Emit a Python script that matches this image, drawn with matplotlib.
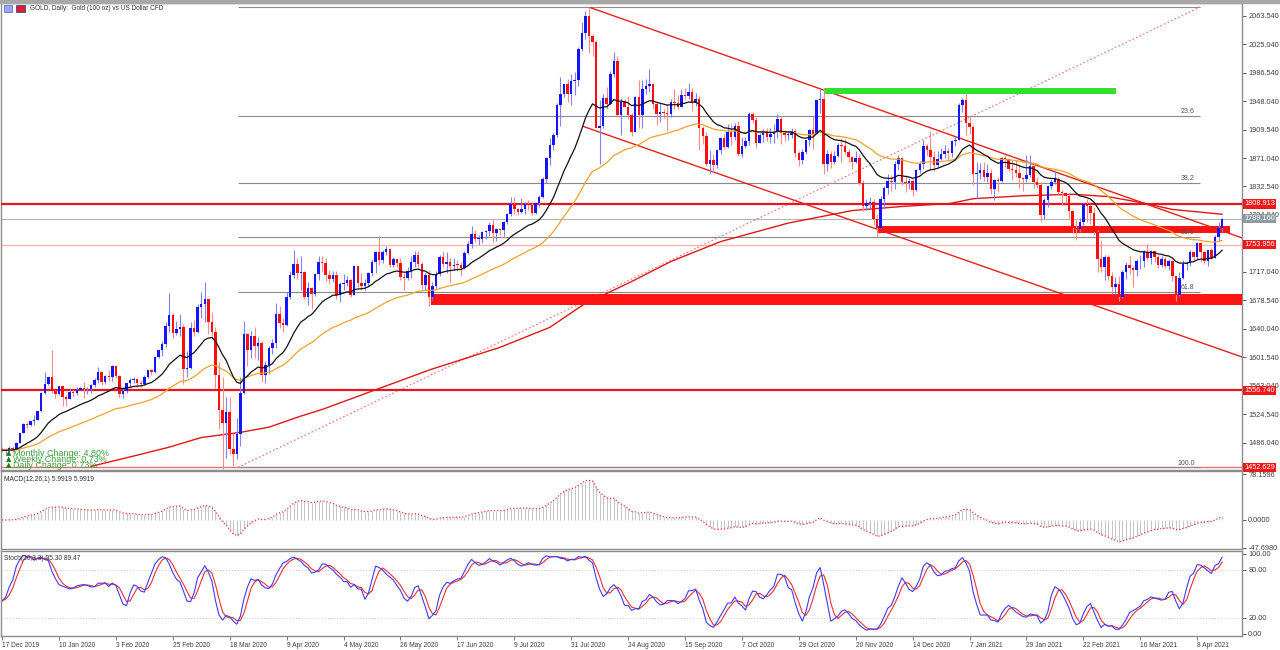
import numpy as np
import pandas as pd
import matplotlib
matplotlib.use('Agg')
import matplotlib.pyplot as plt
import matplotlib.transforms as mtransforms
from matplotlib.patches import Rectangle

# ---- GOLD daily, 17 Dec 2019 -> 19 Apr 2021
first_open = 1476.0

close_2019_12 = [1475.9, 1474.9, 1478.6, 1478.1, 1486.2, 1498.9, 1511.4, 1510.6, 1514.9, 1517.3]
high_2019_12 = [1480, 1479, 1481, 1481, 1487, 1499, 1512, 1514, 1516, 1524]
low_2019_12 = [1473, 1470, 1471, 1473, 1476, 1486, 1499, 1506, 1509, 1510]

close_2020_01 = [1528.8, 1552.6, 1566.0, 1574.3, 1556.2, 1552.2, 1562.3, 1548.3, 1545.1, 1554.8, 1552.7,
                 1557.1, 1560.4, 1558.0, 1558.1, 1563.5, 1571.2, 1581.6, 1567.7, 1576.5, 1575.2, 1589.2]
high_2020_01 = [1529, 1554, 1582, 1575, 1611, 1557, 1563, 1563, 1551, 1559, 1557,
                1561, 1562, 1568, 1561, 1566, 1573, 1588, 1583, 1578, 1584, 1591]
low_2020_01 = [1517, 1527, 1552, 1564, 1553, 1547, 1550, 1536, 1536, 1545, 1548,
               1550, 1557, 1546, 1552, 1553, 1562, 1567, 1564, 1565, 1569, 1570]

close_2020_02 = [1576.9, 1551.4, 1556.1, 1566.2, 1570.4, 1572.6, 1566.9, 1565.9, 1575.4, 1584.1,
                 1581.2, 1601.6, 1611.5, 1619.0, 1643.5, 1659.1, 1634.4, 1640.2, 1643.0, 1585.7]
high_2020_02 = [1591, 1578, 1562, 1567, 1574, 1575, 1573, 1571, 1577, 1585,
                1586, 1603, 1612, 1624, 1649, 1689, 1661, 1651, 1660, 1646]
low_2020_02 = [1573, 1548, 1547, 1553, 1560, 1567, 1562, 1562, 1564, 1573,
               1578, 1580, 1600, 1603, 1616, 1636, 1627, 1632, 1631, 1565]

close_2020_03 = [1587.4, 1640.6, 1636.4, 1669.6, 1674.1, 1680.0, 1649.4, 1635.9, 1577.0, 1530.1, 1512.0,
                 1527.0, 1477.6, 1470.5, 1498.4, 1553.1, 1632.6, 1612.0, 1630.0, 1617.3, 1620.6, 1577.2]
high_2020_03 = [1610, 1649, 1652, 1673, 1690, 1703, 1673, 1663, 1643, 1595, 1575,
                1548, 1548, 1499, 1520, 1575, 1650, 1635, 1637, 1643, 1629, 1623]
low_2020_03 = [1575, 1586, 1630, 1634, 1655, 1649, 1633, 1630, 1560, 1505, 1451,
               1466, 1471, 1455, 1464, 1482, 1552, 1590, 1600, 1601, 1598, 1568]

close_2020_04 = [1591.2, 1613.7, 1620.4, 1660.6, 1647.8, 1645.4, 1683.2, 1713.2, 1727.5, 1716.2, 1717.3,
                 1683.0, 1695.2, 1686.6, 1713.9, 1730.4, 1729.2, 1712.8, 1707.6, 1713.4, 1686.3]
high_2020_04 = [1597, 1617, 1626, 1675, 1671, 1655, 1690, 1718, 1747, 1736, 1739,
                1718, 1703, 1697, 1716, 1739, 1738, 1736, 1719, 1718, 1718]
low_2020_04 = [1567, 1579, 1606, 1614, 1641, 1636, 1644, 1681, 1709, 1707, 1692,
               1680, 1672, 1667, 1685, 1706, 1718, 1705, 1701, 1703, 1680]

close_2020_05 = [1700.4, 1702.0, 1705.8, 1685.6, 1725.2, 1702.4, 1697.8, 1701.6, 1715.7, 1730.0, 1743.5,
                 1733.5, 1744.6, 1747.6, 1726.2, 1734.7, 1728.7, 1710.3, 1708.4, 1718.6, 1730.3]
high_2020_05 = [1703, 1714, 1712, 1708, 1727, 1723, 1715, 1708, 1717, 1735, 1745,
                1765, 1747, 1752, 1750, 1737, 1734, 1736, 1716, 1723, 1739]
low_2020_05 = [1676, 1692, 1698, 1683, 1687, 1697, 1692, 1692, 1698, 1712, 1716,
               1726, 1729, 1740, 1724, 1724, 1724, 1706, 1693, 1706, 1709]

close_2020_06 = [1739.9, 1727.1, 1699.0, 1713.3, 1683.4, 1698.1, 1714.3, 1737.4, 1727.2, 1730.5, 1725.6,
                 1726.9, 1726.2, 1722.2, 1742.5, 1754.4, 1767.9, 1761.5, 1762.0, 1771.0, 1772.1, 1780.9]
high_2020_06 = [1745, 1745, 1731, 1716, 1720, 1703, 1718, 1740, 1745, 1744, 1736,
                1736, 1733, 1730, 1745, 1759, 1779, 1774, 1767, 1772, 1774, 1785]
low_2020_06 = [1724, 1723, 1694, 1693, 1671, 1679, 1695, 1712, 1723, 1715, 1704,
               1719, 1718, 1711, 1721, 1741, 1750, 1757, 1753, 1756, 1762, 1766]

close_2020_07 = [1769.9, 1775.4, 1773.8, 1783.9, 1795.1, 1809.0, 1802.5, 1798.7, 1802.1, 1809.4, 1807.9, 1796.2,
                 1810.3, 1817.9, 1842.7, 1871.2, 1888.3, 1901.6, 1942.1, 1957.3, 1970.7, 1957.2, 1974.9]
high_2020_07 = [1789, 1776, 1776, 1786, 1797, 1818, 1818, 1803, 1817, 1811, 1814, 1812,
                1812, 1821, 1845, 1872, 1898, 1905, 1945, 1981, 1971, 1978, 1984]
low_2020_07 = [1757, 1759, 1767, 1765, 1782, 1793, 1796, 1794, 1797, 1796, 1801, 1794,
               1795, 1805, 1817, 1837, 1862, 1882, 1900, 1915, 1953, 1947, 1943]

close_2020_08 = [1976.3, 2018.9, 2039.6, 2062.5, 2035.6, 2028.0, 1911.6, 1914.5, 1952.6, 1944.7, 1985.2,
                 2001.7, 1929.4, 1947.0, 1940.3, 1929.3, 1906.8, 1954.1, 1929.4, 1964.4, 1968.0]
high_2020_08 = [1987, 2021, 2055, 2070, 2075, 2039, 2030, 1949, 1958, 1967, 1989,
                2015, 2009, 1952, 1951, 1955, 1932, 1955, 1976, 1976, 1978]
low_2020_08 = [1956, 1969, 2016, 2032, 2013, 2009, 1911, 1863, 1911, 1938, 1943,
               1980, 1928, 1902, 1940, 1924, 1901, 1906, 1912, 1911, 1958]

close_2020_09 = [1970.6, 1943.9, 1930.4, 1933.8, 1931.7, 1930.0, 1946.9, 1945.3, 1940.5, 1956.3, 1955.1,
                 1960.6, 1944.8, 1950.6, 1912.3, 1900.2, 1863.2, 1868.1, 1861.5, 1881.4, 1898.6, 1886.4]
high_2020_09 = [1992, 1972, 1947, 1946, 1937, 1944, 1951, 1965, 1956, 1964, 1966,
                1973, 1966, 1959, 1955, 1915, 1906, 1882, 1877, 1882, 1900, 1903]
low_2020_09 = [1960, 1938, 1916, 1920, 1925, 1907, 1926, 1938, 1938, 1941, 1951,
               1951, 1934, 1942, 1882, 1890, 1860, 1849, 1851, 1858, 1877, 1883]

close_2020_10 = [1905.6, 1899.6, 1913.7, 1877.1, 1887.2, 1893.7, 1930.6, 1922.3, 1890.7, 1902.4, 1908.2,
                 1900.0, 1904.1, 1906.9, 1924.2, 1904.3, 1902.0, 1902.1, 1907.6, 1878.3, 1868.2, 1878.8]
high_2020_10 = [1917, 1917, 1919, 1921, 1899, 1900, 1933, 1933, 1926, 1905, 1910,
                1911, 1912, 1917, 1931, 1928, 1909, 1908, 1911, 1910, 1880, 1883]
low_2020_10 = [1885, 1889, 1895, 1874, 1873, 1885, 1889, 1918, 1885, 1892, 1893,
               1894, 1892, 1892, 1898, 1890, 1894, 1895, 1898, 1872, 1860, 1863]

close_2020_11 = [1894.9, 1908.6, 1903.4, 1949.2, 1951.1, 1862.3, 1877.0, 1866.3, 1873.5, 1888.2, 1887.7,
                 1879.3, 1871.9, 1865.9, 1871.2, 1837.8, 1806.4, 1809.8, 1811.9, 1788.0, 1776.9]
high_2020_11 = [1896, 1910, 1928, 1951, 1965, 1966, 1882, 1880, 1880, 1891, 1898,
                1897, 1883, 1874, 1881, 1876, 1841, 1815, 1818, 1815, 1795]
low_2020_11 = [1876, 1887, 1883, 1905, 1932, 1850, 1853, 1857, 1863, 1873, 1866,
               1877, 1866, 1856, 1864, 1834, 1799, 1801, 1804, 1780, 1764]

close_2020_12 = [1815.7, 1830.3, 1840.5, 1839.1, 1863.6, 1871.3, 1839.1, 1837.1, 1840.0, 1827.5, 1854.8,
                 1862.5, 1887.0, 1881.6, 1872.5, 1861.8, 1870.1, 1876.4, 1880.9, 1877.3, 1893.6, 1895.1]
high_2020_12 = [1820, 1833, 1849, 1848, 1867, 1875, 1872, 1848, 1844, 1842, 1856,
                1867, 1896, 1890, 1907, 1881, 1880, 1884, 1889, 1884, 1896, 1900]
low_2020_12 = [1776, 1804, 1823, 1826, 1829, 1855, 1835, 1825, 1829, 1820, 1827,
               1851, 1856, 1874, 1855, 1854, 1859, 1868, 1871, 1869, 1872, 1887]

close_2021_01 = [1943.4, 1949.9, 1918.4, 1913.0, 1849.0, 1850.5, 1855.5, 1845.8, 1850.8, 1828.8,
                 1840.7, 1840.2, 1871.5, 1870.0, 1856.0, 1855.5, 1850.6, 1843.4, 1842.7, 1847.6]
high_2021_01 = [1945, 1952, 1959, 1927, 1916, 1865, 1864, 1865, 1863, 1856,
                1842, 1845, 1872, 1875, 1871, 1868, 1868, 1860, 1846, 1875]
low_2021_01 = [1895, 1933, 1902, 1903, 1835, 1817, 1843, 1840, 1839, 1823,
               1814, 1825, 1838, 1859, 1853, 1841, 1845, 1831, 1826, 1838]

close_2021_02 = [1860.7, 1838.5, 1834.3, 1793.6, 1813.9, 1833.6, 1838.4, 1842.6, 1825.7, 1823.2,
                 1819.0, 1799.1, 1775.8, 1775.0, 1784.1, 1808.6, 1805.6, 1797.2, 1770.7, 1734.0]
high_2021_02 = [1875, 1866, 1845, 1838, 1817, 1835, 1843, 1855, 1846, 1828,
                1825, 1822, 1800, 1787, 1790, 1810, 1816, 1807, 1805, 1774]
low_2021_02 = [1846, 1831, 1831, 1785, 1788, 1805, 1829, 1836, 1822, 1807,
               1810, 1790, 1769, 1760, 1771, 1781, 1785, 1782, 1767, 1717]

close_2021_03 = [1723.5, 1737.6, 1711.4, 1697.0, 1700.6, 1683.0, 1716.5, 1726.4, 1722.3, 1719.4, 1731.1, 1731.3,
                 1744.6, 1735.3, 1744.9, 1737.8, 1726.2, 1735.0, 1724.4, 1732.4, 1711.3, 1685.4, 1708.1]
high_2021_03 = [1760, 1740, 1740, 1717, 1710, 1712, 1720, 1731, 1739, 1725, 1735, 1740,
                1747, 1755, 1747, 1745, 1740, 1738, 1737, 1735, 1733, 1712, 1717]
low_2021_03 = [1717, 1706, 1706, 1687, 1687, 1677, 1682, 1708, 1714, 1697, 1711, 1721,
               1723, 1733, 1728, 1730, 1722, 1723, 1722, 1720, 1705, 1677, 1684]

close_2021_04 = [1728.0, 1728.4, 1743.4, 1737.2, 1755.9, 1744.0, 1732.2, 1746.6, 1736.1, 1764.1, 1776.2, 1789.16]
high_2021_04 = [1733, 1732, 1746, 1745, 1758, 1757, 1745, 1747, 1750, 1767, 1785, 1790]
low_2021_04 = [1707, 1720, 1725, 1733, 1735, 1731, 1728, 1725, 1734, 1737, 1759, 1771]

# long red moving average (bar index, price)
ma_red_bar = [25, 37, 47, 56, 67, 75, 84, 90, 120.5, 140, 154, 163.5, 177, 188, 202, 221, 239, 253,
              266.6, 273, 287, 301, 310.7, 320, 329, 343]
ma_red_val = [1454, 1468, 1480, 1493, 1500, 1507, 1522, 1531, 1585, 1615, 1642, 1673, 1704, 1731, 1758,
              1783, 1800, 1805.5, 1809.6, 1816, 1820, 1822, 1819, 1811, 1801.5, 1795]

date_labels = ['17 Dec 2019', '10 Jan 2020', '3 Feb 2020', '25 Feb 2020', '18 Mar 2020', '9 Apr 2020',
               '4 May 2020', '26 May 2020', '17 Jun 2020', '9 Jul 2020', '31 Jul 2020', '24 Aug 2020',
               '15 Sep 2020', '7 Oct 2020', '29 Oct 2020', '20 Nov 2020', '14 Dec 2020', '7 Jan 2021',
               '29 Jan 2021', '22 Feb 2021', '16 Mar 2021', '8 Apr 2021']

price_ticks = [1486.04, 1524.54, 1563.04, 1601.54, 1640.04, 1678.54, 1717.04, 1755.54,
               1794.04, 1832.54, 1871.04, 1909.54, 1948.04, 1986.54, 2025.04, 2063.54]
hidden_tick = 1755.54   # sits under the 1753.956 price box

# drawn objects on the chart
level_red = [1808.913, 1556.740]
level_pink = 1753.956
level_bottom = 1452.629
bid = 1789.16
fib_low, fib_high = 1452.629, 2075.2
fib_ratios = [0.0, 23.6, 38.2, 50.0, 61.8, 100.0]
fib_bars = (66.3, 336.8)
channel_upper = [(165.5, 2074.3), (348.6, 1763.0)]
channel_lower = [(163.5, 1913.6), (348.6, 1602.0)]
zone_green = (231.2, 313.2, 1958.2, 1966.3)
zone_red_1 = (120.5, 348.6, 1671.8, 1686.7)
zone_red_2 = (246.3, 345.2, 1769.0, 1778.5)

# ---- build the frame
closes = np.array(close_2019_12 + close_2020_01 + close_2020_02 + close_2020_03 + close_2020_04 +
                  close_2020_05 + close_2020_06 + close_2020_07 + close_2020_08 + close_2020_09 +
                  close_2020_10 + close_2020_11 + close_2020_12 + close_2021_01 + close_2021_02 +
                  close_2021_03 + close_2021_04, dtype=float)
highs = np.array(high_2019_12 + high_2020_01 + high_2020_02 + high_2020_03 + high_2020_04 +
                 high_2020_05 + high_2020_06 + high_2020_07 + high_2020_08 + high_2020_09 +
                 high_2020_10 + high_2020_11 + high_2020_12 + high_2021_01 + high_2021_02 +
                 high_2021_03 + high_2021_04, dtype=float)
lows = np.array(low_2019_12 + low_2020_01 + low_2020_02 + low_2020_03 + low_2020_04 +
                low_2020_05 + low_2020_06 + low_2020_07 + low_2020_08 + low_2020_09 +
                low_2020_10 + low_2020_11 + low_2020_12 + low_2021_01 + low_2021_02 +
                low_2021_03 + low_2021_04, dtype=float)

df = pd.DataFrame({'close': closes, 'high': highs, 'low': lows})
df['open'] = df['close'].shift(1).fillna(first_open)
df['high'] = df[['high', 'open', 'close']].max(axis=1)
df['low'] = df[['low', 'open', 'close']].min(axis=1)
n = len(df)
idx = np.arange(n)

# indicators
ema20 = df['close'].ewm(span=20, adjust=False).mean()
ema50 = df['close'].ewm(span=50, adjust=False).mean()
macd = df['close'].ewm(span=12, adjust=False).mean() - df['close'].ewm(span=26, adjust=False).mean()
hh = df['high'].rolling(20, min_periods=1).max()
ll = df['low'].rolling(20, min_periods=1).min()
k = (df['close'] - ll).rolling(3, min_periods=1).sum() / (hh - ll).rolling(3, min_periods=1).sum() * 100
d = k.rolling(3, min_periods=1).mean()

# ---- figure
W, H = 1280, 650
fig = plt.figure(figsize=(W / 100, H / 100), dpi=100)
fig.patch.set_facecolor('white')

def fbox(top, bottom):
    return [1 / W, 1 - bottom / H, 1241 / W, (bottom - top) / H]

ax = fig.add_axes(fbox(3, 470))
axm = fig.add_axes(fbox(471, 549), sharex=ax)
axs = fig.add_axes(fbox(551, 636), sharex=ax)

# window frame on top
fig.patches.append(Rectangle((0, 1 - 3 / H), 1, 3 / H, transform=fig.transFigure,
                             color='#a8a8a8', zorder=0))

axis_col = '#404040'
for a in (ax, axm, axs):
    for s in a.spines.values():
        s.set_color('#8c8c8c')
        s.set_linewidth(1.0)
    a.yaxis.tick_right()
    a.tick_params(axis='y', labelsize=5.3, colors=axis_col, length=3, width=0.6, pad=1.5)
    a.tick_params(axis='x', length=3, width=0.6, colors='#666666')
    a.set_facecolor('white')

ax.set_xlim(-0.3, 348.6)
ax.set_ylim(1449.1, 2080.7)
axm.set_ylim(-49.4, 83.3)
axs.set_ylim(-2.5, 103.75)

lab_font = dict(family='Liberation Sans')

# horizontal levels
ax.axhline(bid, color='#b4b4b4', lw=0.8, zorder=1)
for lv in level_red:
    ax.axhline(lv, color='#e8141e', lw=1.6, zorder=3)
ax.axhline(level_pink, color='#ffb4b4', lw=1.0, zorder=1)
ax.axhline(level_bottom, color='#f07070', lw=1.0, zorder=1)

# fibonacci retracement
fib_levels = [fib_high - r / 100 * (fib_high - fib_low) for r in fib_ratios]
ax.hlines(fib_levels, fib_bars[0], fib_bars[1], color='#8a8a8a', lw=0.8, zorder=1)
ax.plot(fib_bars, [fib_low, fib_high], color='#f07070', lw=0.8, ls=(0, (1.5, 2)), zorder=1)
for r, lv in zip(fib_ratios, fib_levels):
    ax.text(fib_bars[1] - 1.5, lv + 1.2, f'{r:.1f}', fontsize=5, color='#505050',
            ha='right', va='bottom', zorder=6, **lab_font)

# zones
for (x0, x1, y0, y1), col in [(zone_green, '#2fe02f'), (zone_red_1, '#ff1414'), (zone_red_2, '#ff1414')]:
    ax.add_patch(Rectangle((x0, y0), x1 - x0, y1 - y0, color=col, lw=0, zorder=4))

# channel
for line in (channel_upper, channel_lower):
    ax.plot([p[0] for p in line], [p[1] for p in line], color='#e82020', lw=1.0, zorder=3)

# moving averages
ax.plot(ma_red_bar, ma_red_val, color='#e01818', lw=1.0, zorder=3)
ax.plot(idx, ema50, color='#f2a12c', lw=0.9, zorder=5)
ax.plot(idx, ema20, color='#111111', lw=0.9, zorder=5)

# candles
up = (df['close'] >= df['open']).values
body_col = np.where(up, '#1414ff', '#ff0c0c')
wick_col = np.where(up, '#8080ff', '#ff8a8a')
ax.vlines(idx, df['low'], df['high'], colors=wick_col, lw=0.8, zorder=4.5)
body_lo = df[['open', 'close']].min(axis=1)
body_h = np.maximum((df['close'] - df['open']).abs(), 0.9)
ax.bar(idx, body_h, bottom=body_lo, width=0.7, color=body_col, lw=0, zorder=4.6)

# price scale
ax.set_yticks(price_ticks)
ax.set_yticklabels(['' if v == hidden_tick else f'{v:.3f}' for v in price_ticks], **lab_font)

trans = mtransforms.blended_transform_factory(ax.transAxes, ax.transData)

def price_label(a, y, txt, fc, tr):
    a.text(1.0018, y, txt, transform=tr, fontsize=5.3, color='white', ha='left', va='center',
           bbox=dict(boxstyle='square,pad=0.18', fc=fc, ec='none'), clip_on=False, zorder=10, **lab_font)

price_label(ax, 1808.913, '1808.913', '#f01818', trans)
price_label(ax, bid, f'{bid:.3f}', '#8e9aa4', trans)
price_label(ax, 1753.956, '1753.956', '#f01818', trans)
price_label(ax, 1556.740, '1556.740', '#f01818', trans)
price_label(ax, 1452.629, '1452.629', '#f01818', trans)

# header and change box
fig.patches.append(Rectangle((4 / W, 1 - 12 / H), 8 / W, 7 / H, transform=fig.transFigure,
                             fc='#9aa6ff', ec='#5060c0', lw=0.5, zorder=5))
fig.patches.append(Rectangle((16 / W, 1 - 12 / H), 9 / W, 7 / H, transform=fig.transFigure,
                             fc='#e02020', ec='#2030a0', lw=0.5, zorder=5))
fig.text(30 / W, 1 - 9 / H, 'GOLD, Daily:  Gold (100 oz) vs US Dollar CFD', fontsize=4.7,
         color='#333333', va='center', ha='left', **lab_font)

chg_lines = ['Monthly Change: 4.80%', 'Weekly Change: 0.73%', 'Daily Change: 0.73%']
for i, t in enumerate(chg_lines):
    ypx = 453 + 6.2 * i
    fig.text(6 / W, 1 - ypx / H, '\u25b2', fontsize=5, color='#1e7a1e', va='center', ha='left',
             family='DejaVu Sans')
    fig.text(13 / W, 1 - ypx / H, t, fontsize=6.4, color='#3c9c3c', va='center', ha='left', **lab_font)

# MACD window
axm.vlines(idx, 0, macd, colors='#c4c4c4', lw=0.7)
axm.plot(idx, macd, color='#e03a3a', lw=0.9, ls=(0, (1, 1.6)))
axm.set_yticks([78.1596, 0.0, -47.698])
axm.set_yticklabels(['78.1596', '0.0000', '-47.6980'], **lab_font)
axm.text(0.0025, 0.93, 'MACD(12,26,1) 5.9919 5.9919', transform=axm.transAxes, fontsize=4.8,
         color='#333333', va='top', ha='left', **lab_font)

# Stochastic window
axs.axhline(80, color='#c8c8c8', lw=0.7, ls=(0, (1, 2)))
axs.axhline(20, color='#c8c8c8', lw=0.7, ls=(0, (1, 2)))
axs.plot(idx, d, color='#f03030', lw=0.8)
axs.plot(idx, k, color='#3c3cff', lw=0.8)
axs.set_yticks([100, 80, 20, 0])
axs.set_yticklabels(['100.00', '80.00', '20.00', '0.00'], **lab_font)
axs.text(0.0025, 0.95, 'Stoch(20,3,3) 95.30 89.47', transform=axs.transAxes, fontsize=4.8,
         color='#333333', va='top', ha='left', **lab_font)

# date axis
tick_bars = np.arange(0, 16 * len(date_labels), 16)
axs.set_xticks(tick_bars)
axs.set_xticklabels(date_labels, fontsize=4.8, color=axis_col, ha='left', **lab_font)
axs.tick_params(axis='x', pad=1.5)
for a in (ax, axm):
    a.tick_params(axis='x', length=0, labelbottom=False)

fig.savefig('out.png', dpi=100, facecolor='white')
